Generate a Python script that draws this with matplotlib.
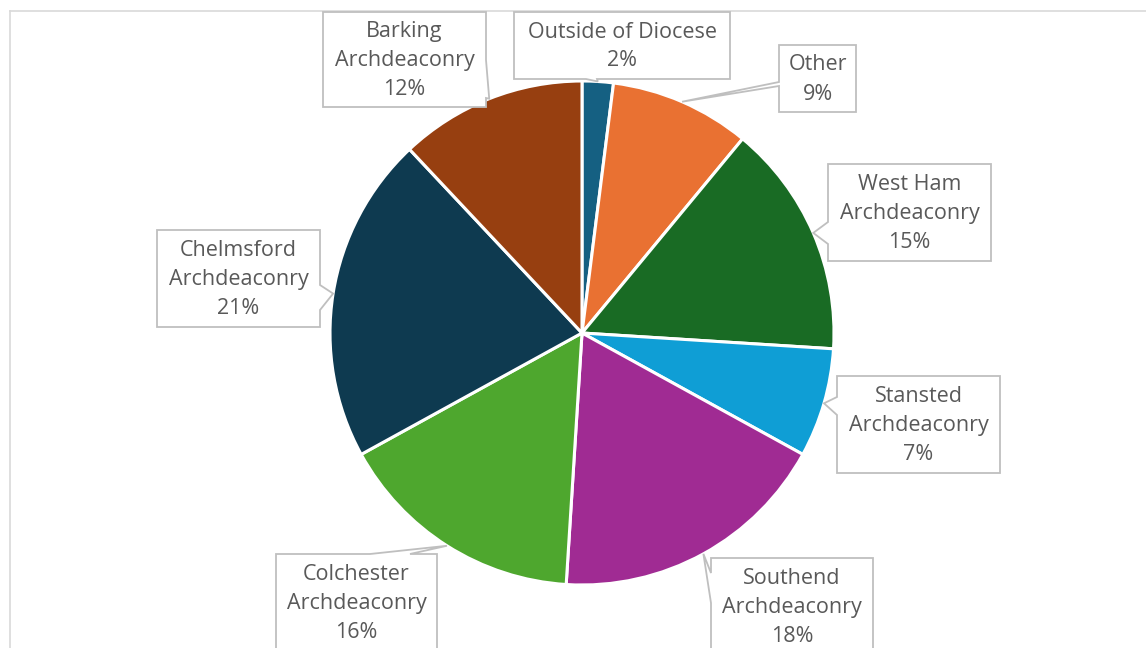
import numpy as np
import matplotlib.pyplot as plt
from matplotlib.patches import Polygon

# share of clergy by area, clockwise from the top
areas = ['Outside of Diocese', 'Other', 'West Ham\nArchdeaconry',
         'Stansted\nArchdeaconry', 'Southend\nArchdeaconry',
         'Colchester\nArchdeaconry', 'Chelmsford\nArchdeaconry',
         'Barking\nArchdeaconry']
shares = [2, 9, 15, 7, 18, 16, 21, 12]
colors = ['#156082', '#E97132', '#196B24', '#0F9ED5', '#A02B93',
          '#4EA72E', '#0E3A50', '#973F10']

W, H = 1146, 648
CX, CY, R = 582, 333, 252

# label boxes in pixel units (left, top, right, bottom), side of the pointer, pointer base
boxes = {
    'Outside of Diocese': ((514, 12, 730, 79), 'bottom', (586, 597)),
    'Other': ((779, 45, 856, 112), 'left', (82, 86)),
    'West Ham\nArchdeaconry': ((828, 164, 991, 261), 'left', (222, 244)),
    'Stansted\nArchdeaconry': ((837, 376, 1000, 473), 'left', (397, 415)),
    'Southend\nArchdeaconry': ((711, 558, 873, 656), 'left', (573, 603)),
    'Colchester\nArchdeaconry': ((276, 554, 437, 652), 'top', (370, 410)),
    'Chelmsford\nArchdeaconry': ((157, 230, 320, 327), 'right', (285, 310)),
    'Barking\nArchdeaconry': ((323, 12, 486, 107), 'right', (60, 98)),
}

plt.rcParams['font.family'] = ['Open Sans', 'DejaVu Sans']

fig = plt.figure(figsize=(W / 100, H / 100), dpi=100)
ax = fig.add_axes([0, 0, 1, 1])

wedges, _ = ax.pie(shares, colors=colors, startangle=90, counterclock=False,
                   center=(CX, H - CY), radius=R,
                   wedgeprops=dict(edgecolor='white', linewidth=2.2))

ax.set_xlim(0, W)
ax.set_ylim(0, H)
ax.set_aspect('equal')
ax.axis('off')

# chart area border (runs off the right and bottom)
ax.plot([10, W], [H - 11, H - 11], color='#d9d9d9', lw=1.2, zorder=1)
ax.plot([10, 10], [H - 11, 0], color='#d9d9d9', lw=1.2, zorder=1)


def callout(box, side, base, tip, text):
    x0, y0, x1, y1 = box
    a, b = base
    if side == 'left':
        pts = [(x0, y0), (x1, y0), (x1, y1), (x0, y1), (x0, b), None, (x0, a)]
    elif side == 'right':
        pts = [(x0, y0), (x1, y0), (x1, a), None, (x1, b), (x1, y1), (x0, y1)]
    elif side == 'top':
        pts = [(x0, y0), (a, y0), None, (b, y0), (x1, y0), (x1, y1), (x0, y1)]
    else:
        pts = [(x0, y0), (x1, y0), (x1, y1), (b, y1), None, (a, y1), (x0, y1)]
    pts = [tip if p is None else (p[0], H - p[1]) for p in pts]
    ax.add_patch(Polygon(pts, closed=True, facecolor='white',
                         edgecolor='#bfbfbf', lw=1.3, zorder=3))
    ax.text((x0 + x1) / 2, H - (y0 + y1) / 2 - 1, text, ha='center', va='center',
            fontsize=15.5, color='#595959', linespacing=1.5, zorder=4)


for w, name, v in zip(wedges, areas, shares):
    mid = np.deg2rad((w.theta1 + w.theta2) / 2)
    tip = (w.center[0] + w.r * np.cos(mid), w.center[1] + w.r * np.sin(mid))
    box, side, base = boxes[name]
    callout(box, side, base, tip, f'{name}\n{v}%')

fig.savefig('out.png', dpi=100)
